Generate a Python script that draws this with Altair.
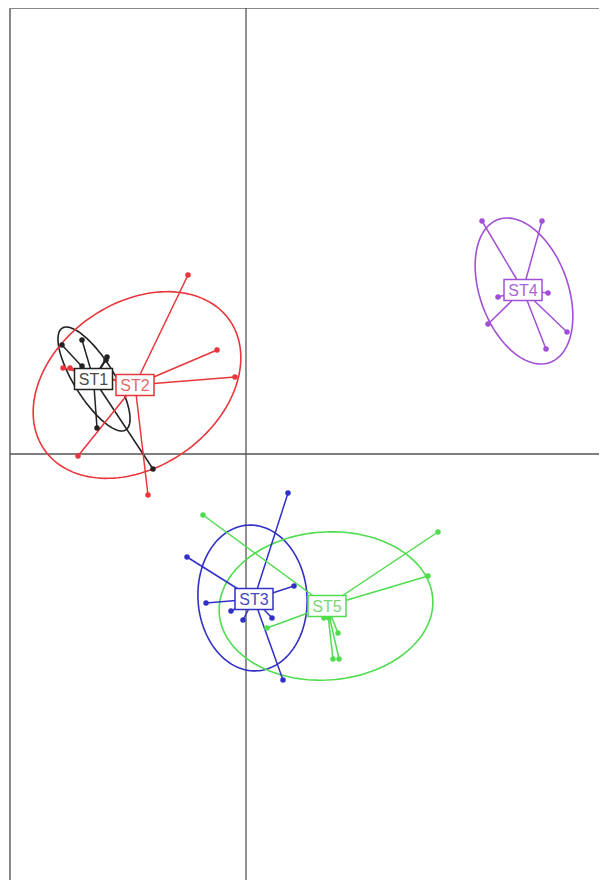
import altair as alt
import numpy as np
import pandas as pd

groups = ["ST1", "ST2", "ST3", "ST4", "ST5"]

# sample scores per class
st1_x = [-1.84, -1.64, -1.39, -1.40, -1.64, -1.49, -0.93]
st1_y = [1.09, 1.14, 0.97, 0.94, 0.88, 0.26, -0.15]
st2_x = [-0.58, -0.29, -0.11, -1.83, -1.76, -1.68, -0.98]
st2_y = [1.79, 1.04, 0.77, 0.86, 0.86, -0.02, -0.41]
st3_x = [0.42, -0.59, -0.40, -0.15, -0.03, 0.26, 0.48, 0.37]
st3_y = [-0.39, -1.03, -1.49, -1.57, -1.66, -1.64, -1.32, -2.26]
st4_x = [2.36, 2.96, 2.52, 3.02, 2.42, 3.21, 3.00]
st4_y = [2.33, 2.33, 1.57, 1.61, 1.30, 1.22, 1.05]
st5_x = [-0.43, 1.92, 1.82, 0.21, 0.78, 0.83, 0.92, 0.87, 0.93]
st5_y = [-0.61, -0.78, -1.22, -1.74, -1.64, -1.64, -1.79, -2.05, -2.05]

# class centroids (label positions)
center_x = [-1.525, -1.11, 0.08, 2.77, 0.81]
center_y = [0.75, 0.69, -1.45, 1.64, -1.52]

# ellipse parameters: centre, semi-axes, rotation (degrees)
ell_cx = [-1.52, -1.09, 0.065, 2.78, 0.80]
ell_cy = [0.75, 0.69, -1.44, 1.63, -1.52]
ell_a = [0.60, 1.13, 0.73, 0.76, 1.07]
ell_b = [0.20, 0.82, 0.545, 0.44, 0.74]
ell_rot = [-58, 35, 94, -70, 4]

line_colors = ["#222222", "#e8363a", "#3030c8", "#a24fd8", "#4fdc4f"]
text_colors = ["#4a4a4a", "#e46a6a", "#4848c4", "#a866d8", "#78d878"]

xs = [st1_x, st2_x, st3_x, st4_x, st5_x]
ys = [st1_y, st2_y, st3_y, st4_y, st5_y]

pts = pd.DataFrame(
    [(g, x, y) for g, gx, gy in zip(groups, xs, ys) for x, y in zip(gx, gy)],
    columns=["grp", "x", "y"],
)
cen = pd.DataFrame({"grp": groups, "cx": center_x, "cy": center_y})
stars = pts.merge(cen, on="grp")

rows = []
for g, cx, cy, a, b, r in zip(groups, ell_cx, ell_cy, ell_a, ell_b, ell_rot):
    phi = np.deg2rad(r)
    t = np.linspace(0, 2 * np.pi, 145)
    ex = cx + a * np.cos(t) * np.cos(phi) - b * np.sin(t) * np.sin(phi)
    ey = cy + a * np.cos(t) * np.sin(phi) + b * np.sin(t) * np.cos(phi)
    for i, (u, v) in enumerate(zip(ex, ey)):
        rows.append((g, i, u, v))
ell = pd.DataFrame(rows, columns=["grp", "i", "x", "y"])

W, H = 589, 872
xdom = [-2.36, 3.53]
ydom = [-4.26, 4.46]
xs_ = alt.Scale(domain=xdom, nice=False, zero=False)
ys_ = alt.Scale(domain=ydom, nice=False, zero=False)
col = alt.Color("grp:N", scale=alt.Scale(domain=groups, range=line_colors), legend=None)

frame_df = pd.DataFrame({"x": [xdom[0]], "y": [ydom[1]]})
zero_df = pd.DataFrame({"x": [0.0], "y": [0.0]})

frame_v = alt.Chart(frame_df).mark_rule(color="#888888", strokeWidth=2).encode(
    x=alt.X("x:Q", scale=xs_, axis=None), y=alt.value(0), y2=alt.value(H)
)
frame_h = alt.Chart(frame_df).mark_rule(color="#888888", strokeWidth=2).encode(
    y=alt.Y("y:Q", scale=ys_, axis=None), x=alt.value(0), x2=alt.value(W)
)
axes_v = alt.Chart(zero_df).mark_rule(color="#555555", strokeWidth=1.3).encode(
    x=alt.X("x:Q", scale=xs_, axis=None), y=alt.value(0), y2=alt.value(H)
)
axes_h = alt.Chart(zero_df).mark_rule(color="#555555", strokeWidth=1.3).encode(
    y=alt.Y("y:Q", scale=ys_, axis=None), x=alt.value(0), x2=alt.value(W)
)

ellipses = alt.Chart(ell).mark_line(strokeWidth=1.6).encode(
    x=alt.X("x:Q", scale=xs_, axis=None),
    y=alt.Y("y:Q", scale=ys_, axis=None),
    color=col,
    detail="grp:N",
    order="i:Q",
)
star = alt.Chart(stars).mark_rule(strokeWidth=1.5).encode(
    x=alt.X("cx:Q", scale=xs_, axis=None),
    y=alt.Y("cy:Q", scale=ys_, axis=None),
    x2="x:Q",
    y2="y:Q",
    color=col,
)
dots = alt.Chart(pts).mark_circle(size=30, opacity=1).encode(
    x=alt.X("x:Q", scale=xs_, axis=None),
    y=alt.Y("y:Q", scale=ys_, axis=None),
    color=col,
)
boxes = alt.Chart(cen).mark_rect(width=38, height=21, fill="white", strokeWidth=1.5).encode(
    x=alt.X("cx:Q", scale=xs_, axis=None),
    y=alt.Y("cy:Q", scale=ys_, axis=None),
    stroke=alt.Stroke("grp:N", scale=alt.Scale(domain=groups, range=line_colors), legend=None),
)
labels = alt.Chart(cen).mark_text(
    font="Liberation Sans", fontSize=16, align="center", baseline="middle", dy=1
).encode(
    x=alt.X("cx:Q", scale=xs_, axis=None),
    y=alt.Y("cy:Q", scale=ys_, axis=None),
    text="grp:N",
    color=alt.Color("grp:N", scale=alt.Scale(domain=groups, range=text_colors), legend=None),
)

base = alt.layer(frame_v, frame_h, axes_v, axes_h, ellipses, star, dots).resolve_scale(color="shared")
chart = alt.layer(base, boxes, labels).resolve_scale(color="independent", stroke="independent").properties(
    width=W,
    height=H,
    padding={"left": 2, "top": 0, "right": 0, "bottom": 0},
    autosize=alt.AutoSizeParams(type="none"),
).configure_view(stroke=None).configure(background="white")

chart.save("out.html", embed_options={"renderer": "svg", "actions": False})
